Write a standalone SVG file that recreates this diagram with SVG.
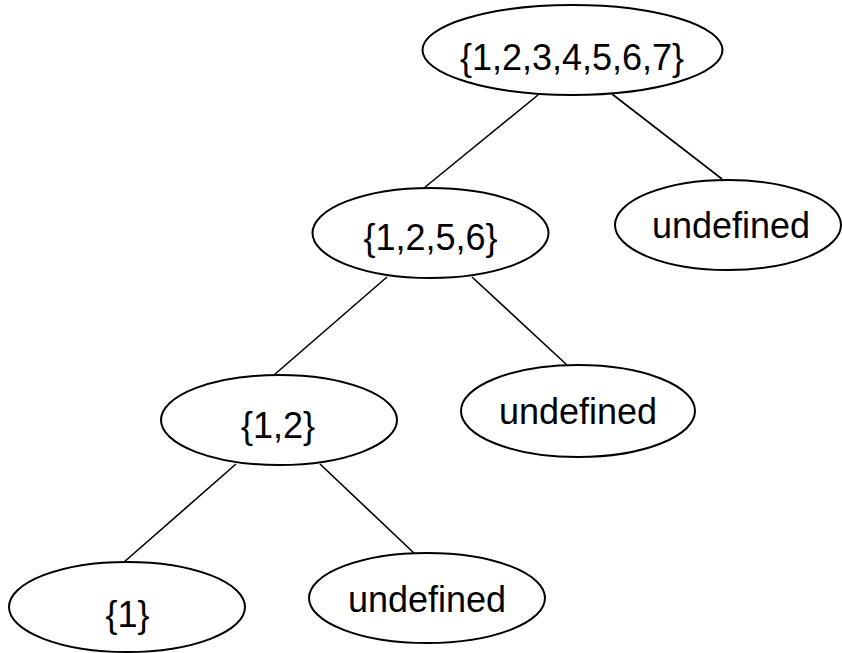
<svg xmlns="http://www.w3.org/2000/svg" width="842" height="653" viewBox="0 0 842 653">
  <style>
    .node ellipse { fill: #ffffff; stroke: #000000; stroke-width: 2; }
    .node text { font-family: "Liberation Sans", Arial, sans-serif; font-size: 36px; fill: #000000; text-anchor: middle; }
    #edges line { stroke: #000000; stroke-width: 1.6; }
  </style>
  <rect width="842" height="653" fill="#ffffff"/>

  <!-- tree edges -->
  <g id="edges">
    <line x1="538" y1="95" x2="424" y2="188"/>
    <line x1="612" y1="94" x2="722" y2="179"/>
    <line x1="387" y1="277" x2="274" y2="375"/>
    <line x1="472" y1="277" x2="567" y2="365"/>
    <line x1="236" y1="464" x2="123" y2="563"/>
    <line x1="320" y1="464" x2="415" y2="554"/>
  </g>

  <g id="root" class="node">
    <ellipse cx="572.5" cy="50" rx="150" ry="45"/>
    <text x="572" y="70">{1,2,3,4,5,6,7}</text>
  </g>
  <g id="set1256" class="node">
    <ellipse cx="430.5" cy="233" rx="118" ry="45"/>
    <text x="430.5" y="250">{1,2,5,6}</text>
  </g>
  <g id="undef-right" class="node">
    <ellipse cx="728" cy="225" rx="113" ry="45"/>
    <text x="731" y="238">undefined</text>
  </g>
  <g id="set12" class="node">
    <ellipse cx="279" cy="420" rx="118" ry="45"/>
    <text x="278" y="438">{1,2}</text>
  </g>
  <g id="undef-mid" class="node">
    <ellipse cx="578" cy="411" rx="117" ry="46"/>
    <text x="578" y="424">undefined</text>
  </g>
  <g id="set1" class="node">
    <ellipse cx="127" cy="607" rx="118" ry="45"/>
    <text x="127.5" y="627">{1}</text>
  </g>
  <g id="undef-bottom" class="node">
    <ellipse cx="427" cy="598" rx="118" ry="45"/>
    <text x="427" y="612">undefined</text>
  </g>
</svg>
